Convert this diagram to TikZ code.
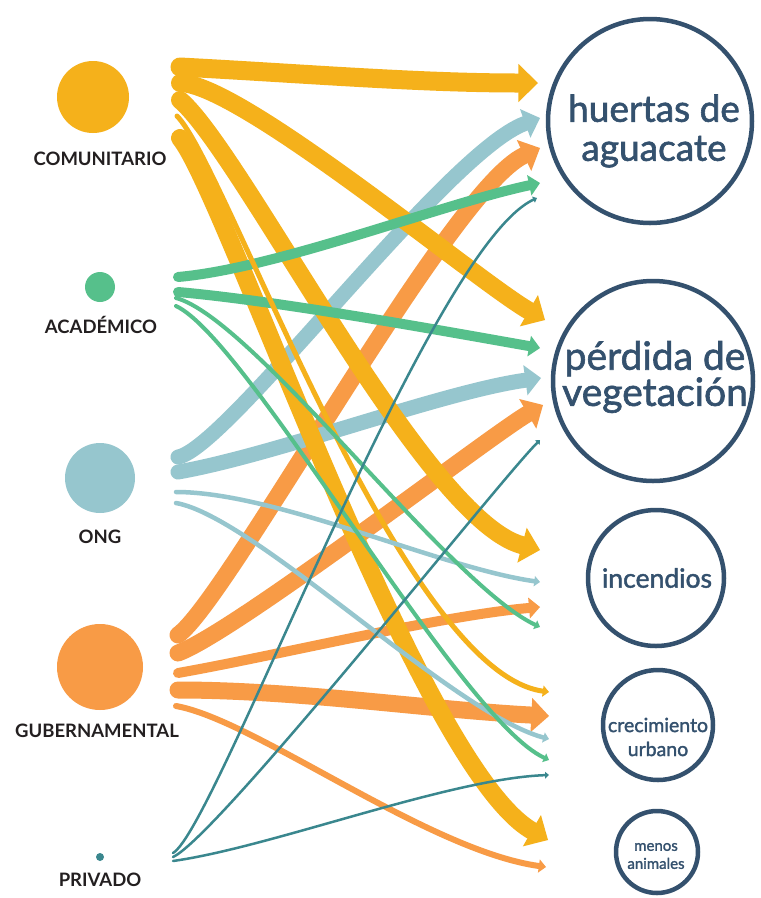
\documentclass[tikz,border=0pt]{standalone}
\usepackage{fontspec}
\setmainfont{Lato}
\newfontfamily\tgtfont{Lato}[FakeBold=1.6]
\usetikzlibrary{arrows.meta}
\definecolor{cYel}{HTML}{F5B11B}
\definecolor{cGrn}{HTML}{56C08B}
\definecolor{cBlu}{HTML}{96C6CE}
\definecolor{cOrg}{HTML}{F89B46}
\definecolor{cTea}{HTML}{3A878E}
\definecolor{cNav}{HTML}{34516E}
\definecolor{cBlk}{HTML}{231F20}
\tikzset{
  flow/.style={line cap=round},
  src/.style={circle, inner sep=0pt, draw=none},
  tgt/.style={circle, draw=cNav, line width=4.5pt, inner sep=0pt},
  slabel/.style={font=\fontsize{18.5}{20}\selectfont\bfseries, text=cBlk},
  tlabel/.style={text=cNav, align=center, inner sep=0pt},
}
% color, width, start, end, L1, angle1, L2, angle2
\newcommand{\fl}[8]{%
  \pgfmathsetmacro{\flAL}{1.5+0.95*#2}\pgfmathsetmacro{\flAW}{2+1.9*#2}%
  \draw[flow, draw=#1, line width=#2pt, -{Triangle[length=\flAL pt, width=\flAW pt, line width=0pt, fill=#1]}]
    (#3) .. controls +({#5*cos(#6)},{#5*sin(#6)}) and +({-#7*cos(#8)},{-#7*sin(#8)}) .. (#4);}
\begin{document}
\begin{tikzpicture}[x=1pt, y=-1pt]
\useasboundingbox (0,0) rectangle (761,898);
\fill[white] (0,0) rectangle (761,898);
% sources
\node[src, fill=cYel, minimum size=72pt] (com) at (93,97) {};
\node[src, fill=cGrn, minimum size=30pt] (aca) at (100,287) {};
\node[src, fill=cBlu, minimum size=70pt] (ong) at (100,478) {};
\node[src, fill=cOrg, minimum size=86pt] (gub) at (100,667) {};
\node[src, fill=cTea, minimum size=8pt] (pri) at (100,857) {};
\node[slabel] (comL) at (100,159) {COMUNITARIO};
\node[slabel] (acaL) at (101,325) {ACADÉMICO};
\node[slabel] (ongL) at (100,537) {ONG};
\node[slabel] (gubL) at (97,731) {GUBERNAMENTAL};
\node[slabel] (priL) at (100,880) {PRIVADO};
% targets
\node[tgt, minimum size=204pt] (hue) at (650,121) {};
\node[tgt, minimum size=200pt] (per) at (653,381) {};
\node[tgt, minimum size=136pt] (inc) at (656,578) {};
\node[tgt, minimum size=110pt] (cre) at (658,725) {};
\node[tgt, minimum size=82pt] (men) at (657,852) {};
\node[tlabel, font=\tgtfont\fontsize{37}{39}\selectfont] (hueT) at (654,131) {huertas de\\aguacate};
\node[tlabel, font=\tgtfont\fontsize{39}{35}\selectfont] (perT) at (655,377) {pérdida de\\vegetación};
\node[tlabel, font=\tgtfont\fontsize{26.5}{28}\selectfont] (incT) at (657,578) {incendios};
\node[tlabel, font=\tgtfont\fontsize{19.5}{24}\selectfont] (creT) at (658,737) {crecimiento\\urbano};
\node[tlabel, font=\tgtfont\fontsize{15}{18}\selectfont] (menT) at (656,856) {menos\\animales};
% ports
\coordinate (comA) at (180,67);  \coordinate (comB) at (180,83);
\coordinate (comC) at (180,100); \coordinate (comD) at (177,116);
\coordinate (comE) at (180,138);
\coordinate (acaA) at (178,277); \coordinate (acaB) at (178,292);
\coordinate (acaC) at (176,298); \coordinate (acaD) at (176,306);
\coordinate (ongA) at (178,457); \coordinate (ongB) at (178,472);
\coordinate (ongC) at (176,492); \coordinate (ongD) at (176,503);
\coordinate (gubA) at (178,635); \coordinate (gubB) at (178,653);
\coordinate (gubC) at (178,673); \coordinate (gubD) at (178,690);
\coordinate (gubE) at (176,706);
\coordinate (priA) at (173,853); \coordinate (priB) at (173,857);
\coordinate (priC) at (173,861);
\coordinate (hY) at (538,83);  \coordinate (hB) at (540,118);
\coordinate (hO) at (540,148); \coordinate (hG) at (540,183);
\coordinate (hT) at (537,198);
\coordinate (pY) at (545,320); \coordinate (pG) at (540,348);
\coordinate (pB) at (541,378); \coordinate (pO) at (543,405);
\coordinate (pT) at (540,440);
\coordinate (iY) at (540,550); \coordinate (iB) at (540,582);
\coordinate (iO) at (540,607); \coordinate (iG) at (540,627);
\coordinate (cY) at (549,692); \coordinate (cO) at (549,716);
\coordinate (cB) at (549,739); \coordinate (cG) at (549,760);
\coordinate (cT) at (549,775);
\coordinate (mY) at (548,840); \coordinate (mO) at (546,867);
% thick flows
\fl{cOrg}{17}{gubA}{hO}{60}{-35}{100}{-25}
\fl{cOrg}{17}{gubB}{pO}{60}{-20}{60}{-30}
\fl{cOrg}{10}{gubC}{iO}{100}{-10}{100}{-5}
\fl{cOrg}{17}{gubD}{cO}{120}{0}{120}{3}
\fl{cBlu}{15}{ongA}{hB}{50}{-10}{100}{-20}
\fl{cBlu}{15}{ongB}{pB}{100}{-10}{100}{-8}
\fl{cYel}{19}{comA}{hY}{120}{3}{120}{0}
\fl{cYel}{18}{comB}{pY}{60}{0}{80}{30}
\fl{cYel}{18}{comC}{iY}{80}{40}{120}{15}
\fl{cYel}{18}{comE}{mY}{70}{50}{150}{30}
\fl{cGrn}{10}{acaA}{hG}{100}{-5}{100}{-12}
\fl{cGrn}{10}{acaB}{pG}{100}{5}{100}{10}
% thin flows
\fl{cYel}{5}{comD}{cY}{70}{45}{150}{8}
\fl{cOrg}{6}{gubE}{mO}{80}{10}{120}{8}
\fl{cBlu}{4.5}{ongC}{iB}{100}{0}{100}{8}
\fl{cBlu}{4.5}{ongD}{cB}{80}{10}{100}{15}
\fl{cGrn}{4}{acaC}{iG}{80}{15}{100}{25}
\fl{cGrn}{4}{acaD}{cG}{80}{25}{100}{25}
\fl{cTea}{2.5}{priA}{hT}{50}{-30}{120}{-25}
\fl{cTea}{2.5}{priB}{pT}{50}{-25}{60}{-45}
\fl{cTea}{2.5}{priC}{cT}{100}{-8}{100}{-2}
\end{tikzpicture}
\end{document}
